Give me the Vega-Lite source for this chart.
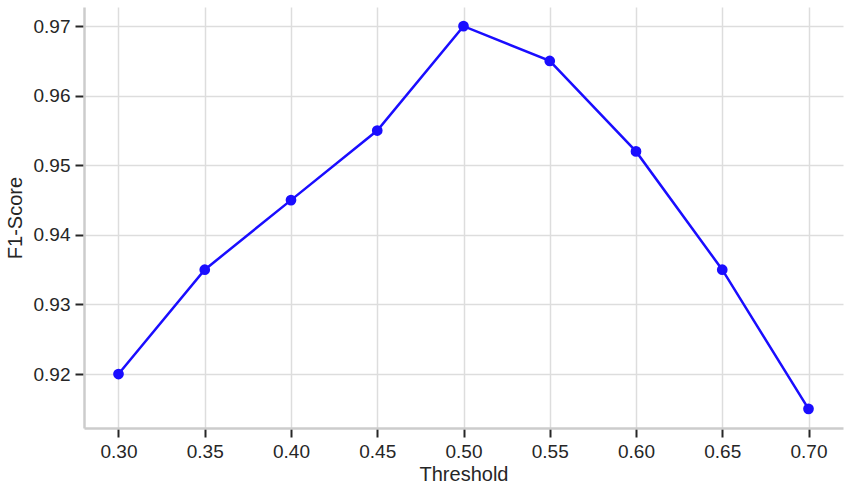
{
  "$schema": "https://vega.github.io/schema/vega-lite/v6.json",
  "autosize": {"type": "none"},
  "padding": {"left": 84, "top": 7, "right": 8, "bottom": 64},
  "width": 759,
  "height": 421,
  "background": "white",
  "config": {
    "view": {"stroke": null},
    "font": "Liberation Sans",
    "axis": {
      "labelFont": "Liberation Sans",
      "titleFont": "Liberation Sans",
      "labelFontSize": 19,
      "titleFontSize": 20,
      "titleFontWeight": "normal",
      "labelColor": "#262626",
      "titleColor": "#262626",
      "gridColor": "#dddddd",
      "gridWidth": 1.5,
      "domainColor": "#cccccc",
      "domainWidth": 2.5,
      "tickColor": "#262626",
      "tickWidth": 2,
      "tickSize": 9,
      "labelPadding": 5
    }
  },
  "data": {
    "values": [
      {"threshold": 0.30, "f1": 0.920},
      {"threshold": 0.35, "f1": 0.935},
      {"threshold": 0.40, "f1": 0.945},
      {"threshold": 0.45, "f1": 0.955},
      {"threshold": 0.50, "f1": 0.970},
      {"threshold": 0.55, "f1": 0.965},
      {"threshold": 0.60, "f1": 0.952},
      {"threshold": 0.65, "f1": 0.935},
      {"threshold": 0.70, "f1": 0.915}
    ]
  },
  "mark": {"type": "line", "color": "#1a0dff", "strokeWidth": 2.5, "point": {"filled": true, "size": 115, "color": "#1a0dff", "opacity": 1}},
  "encoding": {
    "x": {
      "field": "threshold",
      "type": "quantitative",
      "title": "Threshold",
      "scale": {"domain": [0.28, 0.72], "nice": false, "zero": false},
      "axis": {"values": [0.30, 0.35, 0.40, 0.45, 0.50, 0.55, 0.60, 0.65, 0.70], "format": ".2f", "titlePadding": 3}
    },
    "y": {
      "field": "f1",
      "type": "quantitative",
      "title": "F1-Score",
      "scale": {"domain": [0.91225, 0.97275], "nice": false, "zero": false},
      "axis": {"values": [0.92, 0.93, 0.94, 0.95, 0.96, 0.97], "format": ".2f", "titlePadding": 8}
    }
  }
}
